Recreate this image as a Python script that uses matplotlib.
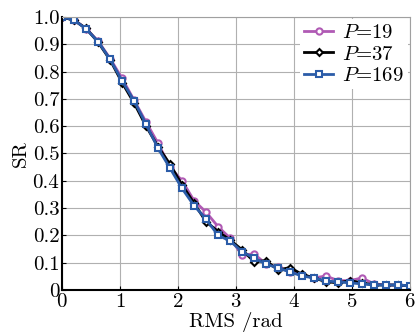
import numpy as np
import matplotlib.pyplot as plt

plt.rcParams['font.family'] = 'cmr10'
plt.rcParams['mathtext.fontset'] = 'cm'
plt.rcParams['axes.formatter.use_mathtext'] = True

rms = np.linspace(0, 6, 30)
sr_19 = [1.0, 0.99, 0.957, 0.912, 0.848, 0.775, 0.695, 0.615, 0.537, 0.45,
         0.40, 0.327, 0.285, 0.232, 0.19, 0.128, 0.132, 0.095, 0.084, 0.066,
         0.055, 0.044, 0.051, 0.034, 0.034, 0.044, 0.022, 0.018, 0.018, 0.015]
sr_37 = [1.0, 0.988, 0.958, 0.908, 0.843, 0.76, 0.685, 0.60, 0.525, 0.46,
         0.385, 0.318, 0.25, 0.214, 0.183, 0.147, 0.104, 0.107, 0.073, 0.082,
         0.057, 0.044, 0.03, 0.026, 0.034, 0.026, 0.018, 0.018, 0.018, 0.015]
sr_169 = [1.0, 0.989, 0.956, 0.91, 0.845, 0.766, 0.693, 0.607, 0.519, 0.446,
          0.372, 0.309, 0.26, 0.20, 0.18, 0.14, 0.117, 0.095, 0.08, 0.066,
          0.051, 0.044, 0.033, 0.029, 0.026, 0.022, 0.018, 0.018, 0.018, 0.015]

xticks = [0, 1, 2, 3, 4, 5, 6]
yticks = [0, 0.1, 0.2, 0.3, 0.4, 0.5, 0.6, 0.7, 0.8, 0.9, 1.0]
ylabels = ['0', '0.1', '0.2', '0.3', '0.4', '0.5', '0.6', '0.7', '0.8', '0.9', '1.0']

fig = plt.figure(figsize=(4.17, 3.34), dpi=100)
ax = fig.add_axes([0.149, 0.132, 0.834, 0.817])

ax.plot(rms, sr_19, color='#b05ab4', lw=2, marker='o', ms=4.5, mfc='white',
        mew=1.5, label='$P$=19')
ax.plot(rms, sr_37, color='black', lw=2, marker='D', ms=3.5, mfc='white',
        mew=1.5, label='$P$=37')
ax.plot(rms, sr_169, color='#2b5ca8', lw=2, marker='s', ms=4.5, mfc='white',
        mew=1.5, label='$P$=169')

ax.set_xlim(0, 6)
ax.set_ylim(0, 1.0)
ax.set_xticks(xticks)
ax.set_yticks(yticks)
ax.set_yticklabels(ylabels)
ax.grid(True, color='#b0b0b0', lw=0.8)
ax.tick_params(direction='in', length=3, labelsize=15, pad=2)
for s in ['top', 'right']:
    ax.spines[s].set_color('#a0a0a0')
for s in ['left', 'bottom']:
    ax.spines[s].set_linewidth(1.5)

ax.set_xlabel('RMS /rad', fontsize=15, labelpad=1)
ax.set_ylabel('SR', fontsize=15, labelpad=2)

leg = ax.legend(loc='upper right', fontsize=15, frameon=True, framealpha=1,
                facecolor='white', edgecolor='none', handlelength=1.4,
                handletextpad=0.4, borderpad=0.2, labelspacing=0.15,
                borderaxespad=0.1, fancybox=False)

fig.savefig('out.png', dpi=100)
